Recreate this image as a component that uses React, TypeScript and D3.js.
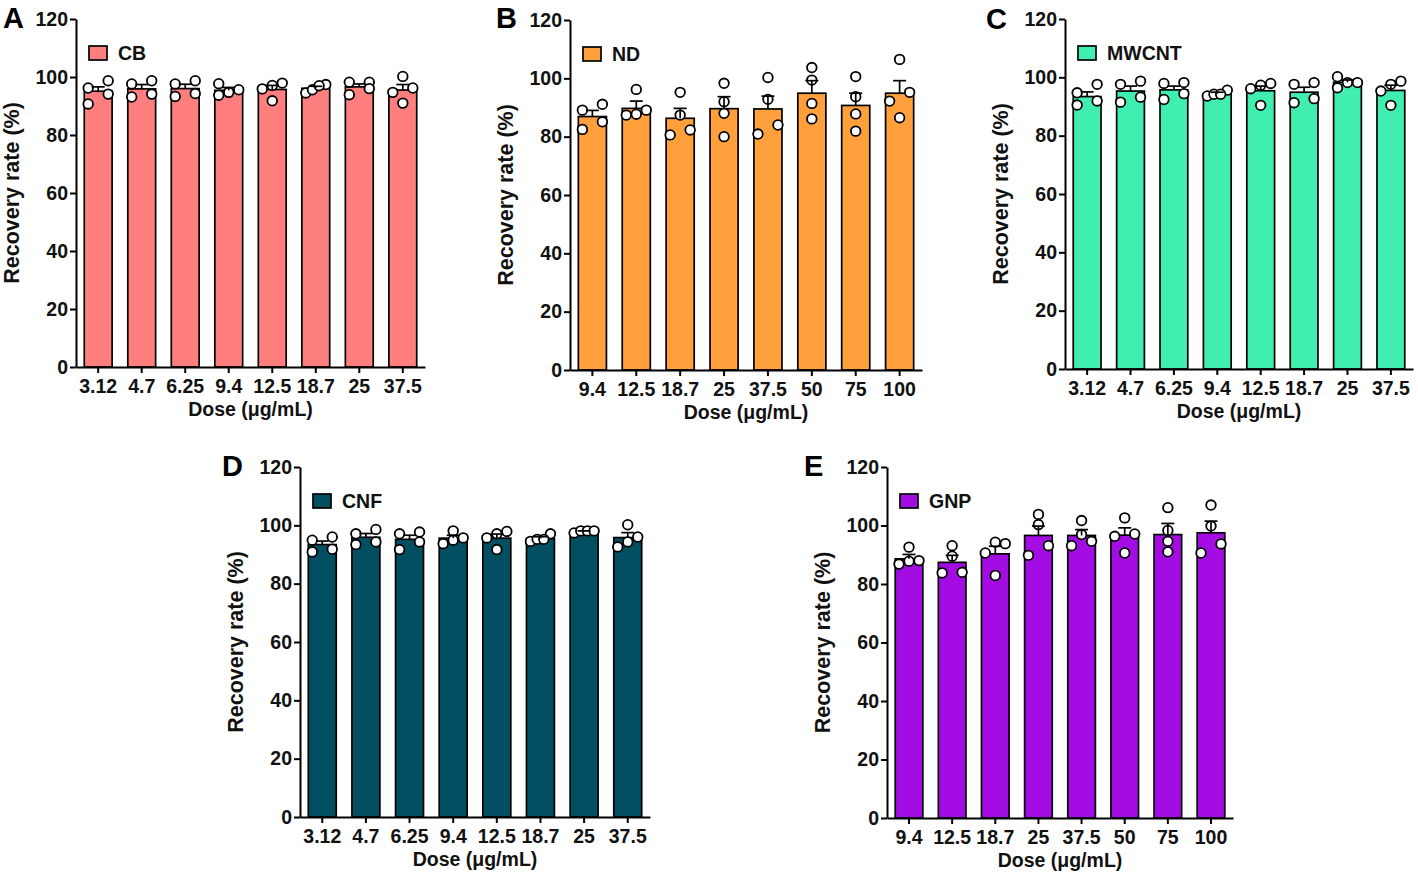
import React, { useEffect, useRef } from "react";
import * as d3 from "d3";

const dosesLow = ["3.12", "4.7", "6.25", "9.4", "12.5", "18.7", "25", "37.5"];
const dosesHigh = ["9.4", "12.5", "18.7", "25", "37.5", "50", "75", "100"];
const yTicks = [0, 20, 40, 60, 80, 100, 120];

const cbMean = [95.1, 95.9, 96.0, 95.4, 95.7, 96.1, 96.6, 95.5];
const cbSem = [1.5, 1.5, 1.5, 1.0, 1.4, 0.7, 1.0, 1.9];
const cbPoints = [
  [96.2, 90.7, 98.7, 94.1],
  [97.6, 93.1, 98.7, 94.1],
  [97.6, 93.3, 98.7, 94.3],
  [97.7, 93.7, 95.6, 94.7],
  [97.9, 95.9, 91.8, 97.1],
  [94.5, 97.4, 95.6, 97.0],
  [98.2, 93.9, 98.2, 96.0],
  [96.2, 100.2, 91.0, 94.7],
];

const ndMean = [86.9, 89.7, 86.3, 89.6, 89.5, 94.9, 90.7, 94.9];
const ndSem = [2.1, 2.5, 3.4, 4.1, 4.4, 4.3, 4.2, 4.3];
const ndPoints = [
  [89.1, 82.5, 91.1, 85.1],
  [87.4, 89.1, 87.7, 96.2],
  [80.6, 95.2, 87.4, 82.3],
  [98.3, 92.0, 88.0, 80.0],
  [100.3, 92.8, 84.0, 80.9],
  [103.7, 99.4, 91.4, 86.1],
  [100.6, 93.7, 87.8, 81.9],
  [95.2, 106.5, 86.5, 92.2],
];

const mwMean = [93.4, 95.3, 95.7, 94.4, 95.4, 94.9, 98.3, 95.5];
const mwSem = [1.6, 1.7, 1.3, 0.5, 1.6, 1.7, 0.8, 1.8];
const mwPoints = [
  [94.7, 90.5, 97.6, 91.9],
  [97.6, 91.5, 98.7, 93.2],
  [97.9, 92.4, 98.2, 94.4],
  [93.6, 95.6, 94.2, 94.2],
  [97.9, 96.1, 90.4, 97.3],
  [97.6, 91.3, 98.2, 92.7],
  [100.2, 96.4, 98.2, 98.2],
  [97.6, 90.4, 98.7, 95.3],
];

const cnfMean = [93.4, 95.9, 95.2, 95.6, 95.6, 95.5, 97.9, 95.8];
const cnfSem = [1.2, 1.3, 1.4, 1.0, 1.4, 0.6, 0.2, 1.7];
const cnfPoints = [
  [94.9, 90.9, 96.0, 91.8],
  [97.1, 93.4, 98.6, 94.3],
  [97.1, 91.7, 97.7, 94.3],
  [93.7, 95.7, 98.1, 94.9],
  [97.9, 95.7, 91.7, 97.1],
  [94.5, 97.1, 95.2, 95.2],
  [97.4, 98.1, 98.1, 98.1],
  [92.6, 100.2, 96.0, 94.3],
];

const gnpMean = [88.6, 87.4, 90.3, 96.6, 96.6, 96.7, 96.9, 97.5];
const gnpSem = [1.5, 2.4, 2.6, 3.2, 2.0, 2.5, 3.8, 4.0];
const gnpPoints = [
  [87.8, 92.6, 88.0, 86.8],
  [83.8, 93.1, 89.5, 84.0],
  [93.8, 90.6, 82.9, 94.3],
  [103.8, 100.3, 93.1, 89.8],
  [96.9, 93.1, 101.7, 94.6],
  [97.1, 102.6, 90.6, 96.3],
  [106.1, 98.3, 94.6, 91.0],
  [90.6, 107.0, 99.8, 93.7],
];

const panels = [
  { letter: "A", name: "CB", color: "#FF7F7F", doses: dosesLow, mean: cbMean, sem: cbSem, points: cbPoints,
    left: 76, top: 19, bottom: 367, right: 425, lx: 3, ly: 28 },
  { letter: "B", name: "ND", color: "#FFA03C", doses: dosesHigh, mean: ndMean, sem: ndSem, points: ndPoints,
    left: 570, top: 20, bottom: 370, right: 922, lx: 496, ly: 28 },
  { letter: "C", name: "MWCNT", color: "#40EFB0", doses: dosesLow, mean: mwMean, sem: mwSem, points: mwPoints,
    left: 1065, top: 19, bottom: 369, right: 1413, lx: 986, ly: 29 },
  { letter: "D", name: "CNF", color: "#034F62", doses: dosesLow, mean: cnfMean, sem: cnfSem, points: cnfPoints,
    left: 300, top: 467, bottom: 817, right: 650, lx: 222, ly: 476 },
  { letter: "E", name: "GNP", color: "#A30CE2", doses: dosesHigh, mean: gnpMean, sem: gnpSem, points: gnpPoints,
    left: 887, top: 467, bottom: 818, right: 1233, lx: 804, ly: 476 },
];

const FONT = "'Liberation Sans', Arial, Helvetica, sans-serif";

// GraphPad-like column scatter: points whose values overlap are placed in rows spread
// symmetrically across a fixed width.
function scatterOffsets(vals: number[], y: (v: number) => number, dia: number, half: number): number[] {
  const idx = vals.map((_, i) => i).sort((a, b) => vals[a] - vals[b]);
  const rows: number[][] = [];
  for (const i of idx) {
    const last = rows[rows.length - 1];
    if (last && Math.abs(y(vals[last[0]]) - y(vals[i])) < dia) last.push(i);
    else rows.push([i]);
  }
  const out = new Array(vals.length).fill(0);
  const placed: { x: number; y: number }[] = [];
  let side = -1;
  rows.forEach((row) => {
    if (row.length === 1) {
      const py = y(vals[row[0]]);
      const cands = [0, side * half, -side * half];
      let chosen = 0;
      for (const c of cands) {
        if (placed.every((p) => Math.hypot(p.x - c, p.y - py) >= dia * 0.9)) {
          chosen = c;
          break;
        }
      }
      if (chosen !== 0) side = -side;
      out[row[0]] = chosen;
      placed.push({ x: chosen, y: py });
    } else {
      const k = row.length;
      row.forEach((i, j) => {
        const c = -half + (2 * half * j) / (k - 1);
        out[i] = c;
        placed.push({ x: c, y: y(vals[i]) });
      });
    }
  });
  return out;
}

export default function App() {
  const ref = useRef<SVGSVGElement>(null);

  useEffect(() => {
    const svg = d3.select(ref.current);
    svg.selectAll("*").remove();

    panels.forEach((p) => {
      const g = svg.append("g");
      const x = d3.scaleBand<string>().domain(p.doses).range([p.left, p.right]).paddingInner(0.36).paddingOuter(0.19);
      const y = d3.scaleLinear().domain([0, 120]).range([p.bottom, p.top]);
      const bw = x.bandwidth();
      const cx = (i: number) => (x(p.doses[i]) as number) + bw / 2;

      // bars
      g.append("g")
        .selectAll("rect")
        .data(p.mean)
        .join("rect")
        .attr("x", (_, i) => x(p.doses[i]) as number)
        .attr("y", (d) => y(d))
        .attr("width", bw)
        .attr("height", (d) => y(0) - y(d))
        .attr("fill", p.color)
        .attr("stroke", "#000")
        .attr("stroke-width", 1.7);

      // points
      const pts: { cx: number; cy: number }[] = [];
      p.points.forEach((vals, i) => {
        const offs = scatterOffsets(vals, y, 10, 10);
        vals.forEach((v, j) => pts.push({ cx: cx(i) + offs[j], cy: y(v) }));
      });
      g.append("g")
        .selectAll("circle")
        .data(pts)
        .join("circle")
        .attr("cx", (d) => d.cx)
        .attr("cy", (d) => d.cy)
        .attr("r", 4.8)
        .attr("fill", "#fff")
        .attr("stroke", "#000")
        .attr("stroke-width", 1.8);

      // error bars (upper SEM)
      const eb = g.append("g").attr("stroke", "#000").attr("stroke-width", 1.7);
      p.mean.forEach((m, i) => {
        eb.append("line").attr("x1", cx(i)).attr("x2", cx(i)).attr("y1", y(m)).attr("y2", y(m + p.sem[i]));
        eb.append("line")
          .attr("x1", cx(i) - 6.5)
          .attr("x2", cx(i) + 6.5)
          .attr("y1", y(m + p.sem[i]))
          .attr("y2", y(m + p.sem[i]));
      });

      // y axis
      const ya = g
        .append("g")
        .attr("transform", `translate(${p.left},0)`)
        .call(d3.axisLeft(y).tickValues(yTicks).tickSize(6).tickSizeOuter(0).tickPadding(2));
      // x axis
      const xa = g
        .append("g")
        .attr("transform", `translate(0,${p.bottom})`)
        .call(d3.axisBottom(x).tickSize(6).tickSizeOuter(0).tickPadding(6));
      [ya, xa].forEach((a) => {
        a.selectAll("path, line").attr("stroke", "#000").attr("stroke-width", 2);
        a.selectAll("text")
          .attr("font-family", FONT)
          .attr("font-weight", "bold")
          .attr("font-size", 19.5)
          .attr("fill", "#111");
      });

      // axis titles
      g.append("text")
        .attr("x", (p.left + p.right) / 2)
        .attr("y", p.bottom + 49)
        .attr("text-anchor", "middle")
        .attr("font-family", FONT)
        .attr("font-weight", "bold")
        .attr("font-size", 19.5)
        .attr("fill", "#111")
        .text("Dose (\u03bcg/mL)");
      g.append("text")
        .attr("transform", `translate(${p.left - 57},${(p.top + p.bottom) / 2}) rotate(-90)`)
        .attr("text-anchor", "middle")
        .attr("font-family", FONT)
        .attr("font-weight", "bold")
        .attr("font-size", 21.5)
        .attr("fill", "#111")
        .text("Recovery rate (%)");

      // legend
      g.append("rect")
        .attr("x", p.left + 13)
        .attr("y", p.top + 27)
        .attr("width", 18)
        .attr("height", 14)
        .attr("fill", p.color)
        .attr("stroke", "#000")
        .attr("stroke-width", 1.7);
      g.append("text")
        .attr("x", p.left + 42)
        .attr("y", p.top + 34)
        .attr("dominant-baseline", "central")
        .attr("font-family", FONT)
        .attr("font-weight", "bold")
        .attr("font-size", 19.5)
        .attr("fill", "#111")
        .text(p.name);

      // panel letter
      g.append("text")
        .attr("x", p.lx)
        .attr("y", p.ly)
        .attr("font-family", FONT)
        .attr("font-weight", "bold")
        .attr("font-size", 29)
        .attr("fill", "#000")
        .text(p.letter);
    });
  }, []);

  return (
    <svg
      ref={ref}
      width={1418}
      height={872}
      style={{ position: "absolute", left: 0, top: 0, background: "#fff" }}
    />
  );
}
